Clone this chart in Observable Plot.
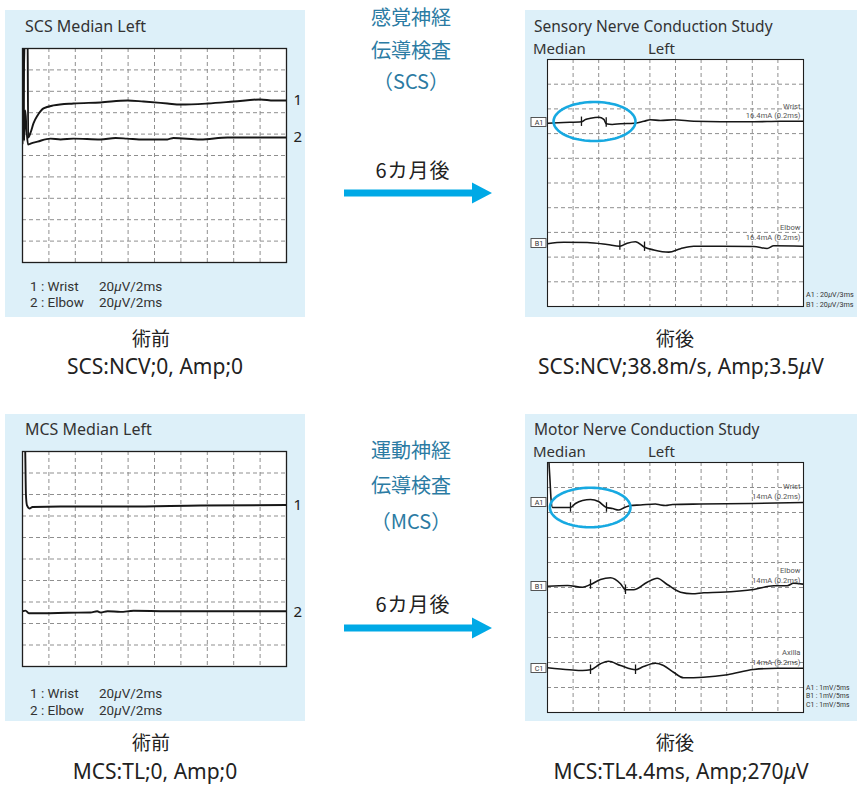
<!DOCTYPE html>
<html><head><meta charset="utf-8">
<script src="https://cdn.jsdelivr.net/npm/d3@7"></script>
<script src="https://cdn.jsdelivr.net/npm/@observablehq/plot@0.6"></script>
<style>
body{margin:0;background:#fff;}
#root{position:relative;width:860px;height:785px;overflow:hidden;font-family:"Noto Sans","Noto Sans CJK JP",sans-serif;}
.bg{position:absolute;background:#ddf0f9;}
svg.ov{position:absolute;left:0;top:0;pointer-events:none;}
</style></head><body><div id="root"></div>
<script>
// ---------- DATA (x = time in ms, y = screen divisions, 0 = bottom, 10 = top) ----------
// Pre-op sensory (SCS), 2 ms/div
const scsPreWrist = [[0,5.70],[0.27,11.3],[0.38,11.3],[0.43,5.84],[0.61,6.07],[0.83,6.50],[1.14,6.87],[1.59,7.20],[2.35,7.34],[3.86,7.43],[5.91,7.48],[7.95,7.57],[9.17,7.52],[10.98,7.43],[11.97,7.38],[14.02,7.43],[15.98,7.52],[18.03,7.62],[19.02,7.57],[20,7.57]];
const scsPreElbow = [[0,5.56],[0.03,11.3],[0.08,11.3],[0.12,5.70],[0.21,7.10],[0.30,6.26],[0.42,5.51],[0.61,5.56],[1.14,5.65],[2.12,5.79],[2.88,5.75],[3.86,5.79],[5.91,5.75],[7.05,5.82],[7.95,5.79],[9.17,5.75],[10.98,5.75],[11.44,5.82],[13.48,5.75],[15.53,5.84],[18.03,5.84],[20,5.84]];
const scsPreTraceLabels = ["1","2"];
const scsPreLabelLevels = [7.57,5.84];

// Pre-op motor (MCS), 2 ms/div
const mcsPreWrist = [[0.12,11],[0.20,10.2],[0.26,8.0],[0.34,7.49],[0.53,7.35],[0.76,7.42],[2.88,7.44],[7.95,7.44],[13.48,7.49],[20,7.51]];
const mcsPreElbow = [[0,2.57],[0.23,2.60],[0.48,2.48],[1.59,2.48],[3.41,2.50],[5.15,2.51],[5.66,2.57],[5.91,2.51],[6.44,2.57],[7.42,2.54],[8.41,2.59],[10.98,2.57],[20,2.57]];
const mcsPreTraceLabels = ["1","2"];
const mcsPreLabelLevels = [7.52,2.53];

// Post-op sensory, 3 ms/div
const scsPostA1 = [[0,7.42],[1.91,7.45],[3.98,7.48],[4.45,7.57],[5.04,7.62],[6.01,7.66],[6.60,7.58],[6.88,7.40],[7.58,7.37],[8.55,7.40],[10.11,7.42],[11.29,7.50],[12.07,7.56],[13.24,7.53],[14.80,7.56],[17.14,7.50],[20.27,7.48],[24.18,7.48],[27.29,7.50],[30,7.50]];
const scsPostB1 = [[0,2.54],[1.91,2.60],[4.65,2.59],[6.99,2.51],[8.48,2.44],[9.34,2.56],[10.31,2.62],[11.37,2.40],[12.46,2.29],[14.22,2.20],[15.59,2.34],[17.14,2.44],[20.27,2.44],[24.18,2.43],[25.74,2.35],[26.52,2.46],[30,2.44]];
const scsPostMarkers = [[3.98,7.48],[6.88,7.45],[8.48,2.47],[11.37,2.42]];
const scsPostChannels = ["A1","B1"];
const scsPostChannelLevels = [7.45,2.55];
const scsPostSites = ["Wrist","Elbow"];
const scsPostStim = ["16.4mA (0.2ms)","16.4mA (0.2ms)"];
const scsPostGain = ["A1 : 20μV/3ms","B1 : 20μV/3ms"];
const scsPostCircle = [5.51, 7.49, 4.80, 0.79]; // center t, center level, radius t, radius level

// Post-op motor, 5 ms/div
const mcsPostA1 = [[0.04,11.3],[0.29,10.0],[0.49,9.28],[0.68,8.56],[0.98,8.2],[2.54,8.2],[4.49,8.2],[5.47,8.36],[6.84,8.48],[8.40,8.52],[9.96,8.44],[11.52,8.2],[12.70,8.16],[13.87,8.10],[15.04,8.2],[16.21,8.28],[18.16,8.30],[21.09,8.34],[22.07,8.30],[23.05,8.28],[24.41,8.32],[29.88,8.34],[39.65,8.36],[50,8.40]];
const mcsPostB1 = [[0,5.05],[3.91,5.08],[6.84,5.01],[8.40,5.12],[10.35,5.32],[12.30,5.39],[14.26,5.15],[15.23,4.91],[16.80,4.91],[19.47,5.21],[21.43,5.37],[23.38,5.12],[25.98,4.81],[28.26,4.75],[30.53,4.79],[33.79,4.81],[40.29,4.92],[44.20,5.07],[46.82,5.07],[48.05,5.17],[50,5.13]];
const mcsPostC1 = [[0,1.79],[4.30,1.71],[6.84,1.68],[8.40,1.71],[10.35,1.95],[11.91,2.05],[14.26,1.88],[17.19,1.71],[18.75,1.84],[21.09,1.97],[22.66,1.88],[24.61,1.61],[26.56,1.39],[30.47,1.41],[35.16,1.51],[40.23,1.72],[44.92,1.77],[50,1.77]];
const mcsPostMarkers = [[4.49,8.2],[11.52,8.2],[8.40,5.12],[15.23,4.91],[8.40,1.71],[17.19,1.71]];
const mcsPostChannels = ["A1","B1","C1"];
const mcsPostChannelLevels = [8.4,5.04,1.76];
const mcsPostSites = ["Wrist","Elbow","Axilla"];
const mcsPostStim = ["14mA (0.2ms)","14mA (0.2ms)","14mA (0.2ms)"];
const mcsPostGain = ["A1 : 1mV/5ms","B1 : 1mV/5ms","C1 : 1mV/5ms"];
const mcsPostCircle = [8.34, 8.2, 7.87, 0.79];

// Texts
const preTitles = ["SCS Median Left","MCS Median Left"];
const preLegend = ["1 : Wrist","2 : Elbow"];
const preGain = "20μV/2ms";
const postTitles = ["Sensory Nerve Conduction Study","Motor Nerve Conduction Study"];
const postSub = ["Median","Left"];
const centerHeads = [["感覚神経","伝導検査","（SCS）"],["運動神経","伝導検査","（MCS）"]];
const arrowLabel = "6カ月後";
const captionHeads = ["術前","術後"];
const captions = [["SCS:NCV;0, Amp;0","SCS:NCV;38.8m/s, Amp;3.5μV"],["MCS:TL;0, Amp;0","MCS:TL4.4ms, Amp;270μV"]];

// ---------- LAYOUT ----------
const root = document.getElementById("root");
const FONT = '"Noto Sans","Noto Sans CJK JP",sans-serif';
const SMALL = 'Roboto,"Noto Sans",sans-serif';
const CJK = '"Noto Sans CJK JP",sans-serif';
const GRID = {stroke:"#8f8f8f", strokeDasharray:"4,3", strokeWidth:1};

function addBg(l,t,w,h){const d=document.createElement("div");d.className="bg";Object.assign(d.style,{left:l+"px",top:t+"px",width:w+"px",height:h+"px"});root.appendChild(d);}

function panel({left,top,width,height,frame,xMax,xStep,marks,frameW}){
  const [fx0,fx1,fy0,fy1]=frame;
  const svg = Plot.plot({
    width,height,
    marginLeft:fx0-left, marginRight:left+width-fx1, marginTop:fy0-top, marginBottom:top+height-fy1,
    x:{domain:[0,xMax],axis:null}, y:{domain:[0,10],axis:null},
    style:{background:"transparent",overflow:"visible",fontFamily:FONT},
    marks:[
      Plot.frame({fill:"white",stroke:"none"}),
      Plot.ruleX(d3.range(xStep,xMax-1e-6,xStep),GRID),
      Plot.ruleY(d3.range(1,10),GRID),
      ...marks,
      Plot.frame({stroke:"#1e1e1e",strokeWidth:frameW})
    ]
  });
  Object.assign(svg.style,{position:"absolute",left:left+"px",top:top+"px"});
  root.appendChild(svg);
}
const trace = (d,w)=>Plot.line(d,{x:d=>d[0],y:d=>d[1],stroke:"#161616",strokeWidth:w,curve:"monotone-x",clip:true});
const ellipse = ([cx,cy,rx,ry])=>Plot.line(d3.range(0,361,4),{x:a=>cx+rx*Math.cos(a*Math.PI/180),y:a=>cy+ry*Math.sin(a*Math.PI/180),stroke:"#17a9e1",strokeWidth:2.6,curve:"linear"});
const markers = (d)=>Plot.ruleX(d,{x:d=>d[0],y1:d=>d[1]-0.19,y2:d=>d[1]+0.19,stroke:"#161616",strokeWidth:1.3});

function postMarks(xMax, pxPerMs, channels, levels, sites, stim){
  const idx = channels.map((_,i)=>i);
  return [
    Plot.rect(idx,{x1:()=>-16/pxPerMs,x2:()=>-1/pxPerMs,y1:i=>levels[i]-0.18,y2:i=>levels[i]+0.18,fill:"white",stroke:"#444",strokeWidth:0.9,clip:false}),
    Plot.text(idx,{x:()=>0,y:i=>levels[i],text:i=>channels[i],dx:-8.5,fontSize:7.2,fill:"#333",fontFamily:SMALL}),
    Plot.text(idx,{x:()=>xMax,y:i=>levels[i],text:i=>sites[i],dx:-3,dy:-13.5,textAnchor:"end",lineAnchor:"bottom",fontSize:7.6,fill:"#555",fontFamily:SMALL}),
    Plot.text(idx,{x:()=>xMax,y:i=>levels[i],text:i=>stim[i],dx:-3,dy:-4,textAnchor:"end",lineAnchor:"bottom",fontSize:7.6,fill:"#555",fontFamily:SMALL})
  ];
}
function preLabels(levels, labels){
  return Plot.text(levels.map((_,i)=>i),{x:()=>20,y:i=>levels[i],text:i=>labels[i],dx:7,textAnchor:"start",fontSize:15,fill:"#222"});
}

// backgrounds
addBg(5,10,300,307); addBg(5,414,300,307); addBg(525,10,332,307); addBg(525,414,332,307);

panel({left:5,top:10,width:300,height:307,frame:[22,286,48,262],xMax:20,xStep:2,frameW:1.3,
  marks:[trace(scsPreWrist,1.9),trace(scsPreElbow,1.9),preLabels(scsPreLabelLevels,scsPreTraceLabels)]});
panel({left:5,top:414,width:300,height:307,frame:[22,286,451,666],xMax:20,xStep:2,frameW:1.3,
  marks:[trace(mcsPreWrist,1.9),trace(mcsPreElbow,1.9),preLabels(mcsPreLabelLevels,mcsPreTraceLabels)]});
panel({left:525,top:10,width:332,height:307,frame:[547,803,59,306],xMax:30,xStep:3,frameW:1.1,
  marks:[trace(scsPostA1,1.6),trace(scsPostB1,1.6),markers(scsPostMarkers),
    ...postMarks(30,256/30,scsPostChannels,scsPostChannelLevels,scsPostSites,scsPostStim),ellipse(scsPostCircle)]});
panel({left:525,top:414,width:332,height:307,frame:[547,803,462,712],xMax:50,xStep:5,frameW:1.1,
  marks:[trace(mcsPostA1,1.6),trace(mcsPostB1,1.6),trace(mcsPostC1,1.6),markers(mcsPostMarkers),
    ...postMarks(50,256/50,mcsPostChannels,mcsPostChannelLevels,mcsPostSites,mcsPostStim),ellipse(mcsPostCircle)]});

// overlay texts
const ov = d3.select(root).append("svg").attr("class","ov").attr("width",860).attr("height",785)
  .style("font-family",FONT);
function txt(x,y,s,size,anchor="start",fill="#333",family=null){
  const t = ov.append("text").attr("x",x).attr("y",y).attr("font-size",size).attr("text-anchor",anchor).attr("fill",fill);
  if(family) t.style("font-family",family);
  s.split(/(μ)/).forEach(part=>{ if(!part) return; const sp=t.append("tspan").text(part); if(part==="μ") sp.attr("font-style","italic"); });
  return t;
}
[0,1].forEach(k=>{
  const oy = k===0?0:404;
  txt(25,32+oy-(k?1:0),preTitles[k],16);
  const l1 = 290.5+oy+(k?3.5:0), l2 = 307+oy+(k?4:0);
  txt(30,l1,preLegend[0],13.5,"start","#333",SMALL); txt(99,l1,preGain,13.5,"start","#333",SMALL);
  txt(30,l2,preLegend[1],13.5,"start","#333",SMALL); txt(99,l2,preGain,13.5,"start","#333",SMALL);
  txt(534,32+oy-(k?1:0),postTitles[k],15.5);
  txt(533,54+oy-(k?1:0),postSub[0],15); txt(648,54+oy-(k?1:0),postSub[1],15);
});
scsPostGain.forEach((g,i)=>txt(806,297+i*10,g,7.2,"start","#333",SMALL));
mcsPostGain.forEach((g,i)=>txt(806,689.5+i*8.5,g,6.8,"start","#333",SMALL));

const teal="#2b7ba3";
const headY=[[25,58,89],[458,493,529]];
centerHeads.forEach((lines,k)=>lines.forEach((s,j)=>txt(411,headY[k][j],s,20,"middle",teal,CJK)));
[[178,193],[612,628]].forEach(([ly,ay])=>{
  txt(413,ly,arrowLabel,20,"middle","#222",CJK).attr("letter-spacing",1);
  ov.append("path").attr("d",`M344,${ay-3.5}H472V${ay-10.5}L492,${ay}L472,${ay+10.5}V${ay+3.5}H344Z`).attr("fill","#00a9e6");
});
[[346,374],[750,779]].forEach(([hy,cy],k)=>{
  txt(151,hy,captionHeads[0],19,"middle","#222",CJK);
  txt(675,hy,captionHeads[1],19,"middle","#222",CJK);
  txt(155,cy,captions[k][0],21,"middle","#222");
  txt(681,cy,captions[k][1],21,"middle","#222");
});
</script></body></html>
